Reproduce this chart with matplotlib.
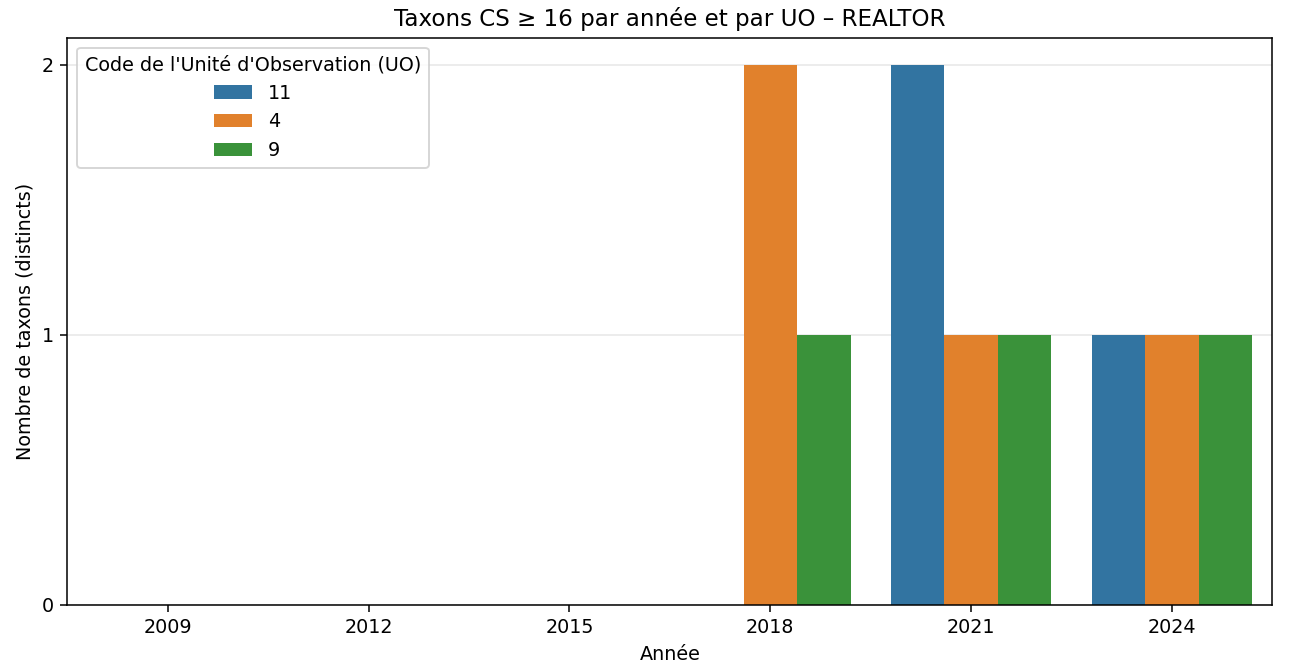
import pandas as pd
import numpy as np
import matplotlib
matplotlib.use('Agg')
import matplotlib.pyplot as plt
import seaborn as sns

years = ['2009', '2012', '2015', '2018', '2021', '2024']
uo_codes = ['11', '4', '9']
counts_11 = [0, 0, 0, 0, 2, 1]
counts_4 = [0, 0, 0, 2, 1, 1]
counts_9 = [0, 0, 0, 1, 1, 1]

rows = []
for code, vals in zip(uo_codes, [counts_11, counts_4, counts_9]):
    for y, v in zip(years, vals):
        rows.append({'annee': y, 'uo': code, 'n': v})
df = pd.DataFrame(rows)

DPI = 138
fig, ax = plt.subplots(figsize=(1297 / DPI, 666 / DPI), dpi=DPI)
sns.barplot(data=df, x='annee', y='n', hue='uo', order=years, hue_order=uo_codes,
            palette=['#1f77b4', '#ff7f0e', '#2ca02c'], saturation=0.75, ax=ax, errorbar=None)

ax.set_title('Taxons CS ≥ 16 par année et par UO – REALTOR')
ax.set_xlabel('Année')
ax.set_ylabel('Nombre de taxons (distincts)')
ax.set_yticks([0, 1, 2])
ax.set_ylim(0, 2.1)
ax.grid(axis='y', alpha=0.3)
ax.set_axisbelow(True)
ax.legend(title="Code de l'Unité d'Observation (UO)", loc='upper left')

fig.subplots_adjust(left=0.052, right=0.981, top=0.943, bottom=0.092)
fig.savefig('out.png', dpi=DPI)
